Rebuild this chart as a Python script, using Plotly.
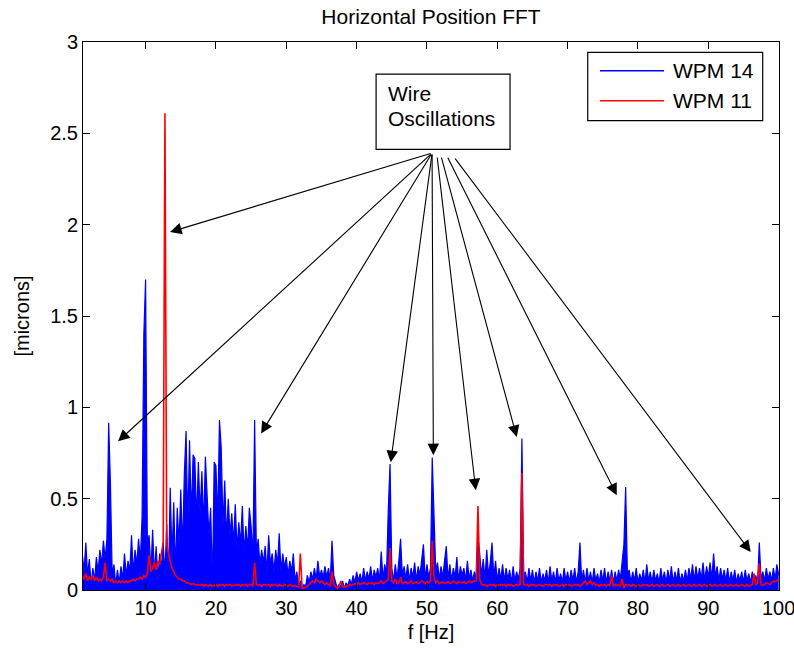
import numpy as np
import plotly.graph_objects as go

# Frequency grid (Hz), 0.25 Hz spacing from 1.0 to 100.0
freq = np.round(np.arange(1.0, 100.0001, 0.25), 2)

# WPM 14 spectrum amplitude [microns] (rows of 2 Hz)
wpm14 = [
    0.20, 0.10, 0.26, 0.08, 0.17, 0.03, 0.12, 0.05,   # 1
    0.18, 0.10, 0.22, 0.14, 0.27, 0.17, 0.28, 0.915,  # 3
    0.58, 0.08, 0.14, 0.03, 0.11, 0.04, 0.13, 0.06,   # 5
    0.20, 0.08, 0.16, 0.10, 0.30, 0.09, 0.22, 0.14,   # 7
    0.28, 0.16, 0.40, 1.40, 1.70, 0.25, 0.30, 0.10,   # 9
    0.33, 0.08, 0.24, 0.05, 0.20, 0.12, 0.26, 0.08,   # 11
    0.36, 0.04, 0.56, 0.18, 0.48, 0.10, 0.45, 0.25,   # 13
    0.55, 0.22, 0.63, 0.87, 0.35, 0.82, 0.40, 0.74,   # 15
    0.72, 0.38, 0.70, 0.42, 0.65, 0.35, 0.73, 0.55,   # 17
    0.30, 0.45, 0.02, 0.70, 0.68, 0.38, 0.93, 0.78,   # 19
    0.35, 0.60, 0.28, 0.50, 0.30, 0.42, 0.25, 0.47,   # 21
    0.22, 0.37, 0.25, 0.46, 0.20, 0.35, 0.22, 0.45,   # 23
    0.35, 0.18, 0.93, 0.20, 0.28, 0.14, 0.22, 0.15,   # 25
    0.24, 0.10, 0.30, 0.14, 0.20, 0.10, 0.22, 0.14,   # 27
    0.31, 0.10, 0.20, 0.12, 0.18, 0.08, 0.16, 0.10,   # 29
    0.20, 0.05, 0.10, 0.02, 0.05, 0.01, 0.03, 0.02,   # 31
    0.08, 0.04, 0.10, 0.06, 0.12, 0.06, 0.16, 0.07,   # 33
    0.11, 0.07, 0.13, 0.07, 0.12, 0.05, 0.27, 0.08,   # 35
    0.04, 0.01, 0.03, 0.02, 0.05, 0.01, 0.04, 0.02,   # 37
    0.06, 0.03, 0.08, 0.04, 0.10, 0.05, 0.09, 0.04,   # 39
    0.12, 0.05, 0.10, 0.06, 0.13, 0.05, 0.11, 0.07,   # 41
    0.12, 0.05, 0.21, 0.06, 0.14, 0.08, 0.44, 0.69,   # 43
    0.12, 0.05, 0.14, 0.06, 0.16, 0.28, 0.08, 0.13,   # 45
    0.06, 0.14, 0.05, 0.12, 0.07, 0.15, 0.05, 0.13,   # 47
    0.08, 0.16, 0.25, 0.06, 0.14, 0.07, 0.12, 0.725,  # 49
    0.37, 0.10, 0.15, 0.06, 0.13, 0.07, 0.16, 0.24,   # 51
    0.06, 0.14, 0.05, 0.12, 0.07, 0.18, 0.05, 0.13,   # 53
    0.08, 0.12, 0.05, 0.16, 0.06, 0.11, 0.05, 0.10,   # 55
    0.06, 0.29, 0.20, 0.08, 0.17, 0.06, 0.22, 0.08,   # 57
    0.15, 0.26, 0.07, 0.16, 0.05, 0.12, 0.06, 0.14,   # 59
    0.05, 0.12, 0.06, 0.11, 0.04, 0.13, 0.05, 0.10,   # 61
    0.06, 0.12, 0.83, 0.08, 0.10, 0.04, 0.12, 0.05,   # 63
    0.11, 0.04, 0.10, 0.05, 0.12, 0.04, 0.09, 0.05,   # 65
    0.11, 0.04, 0.13, 0.05, 0.10, 0.04, 0.12, 0.05,   # 67
    0.09, 0.04, 0.12, 0.05, 0.10, 0.04, 0.11, 0.05,   # 69
    0.12, 0.04, 0.10, 0.26, 0.05, 0.11, 0.04, 0.12,   # 71
    0.05, 0.10, 0.04, 0.12, 0.05, 0.09, 0.04, 0.11,   # 73
    0.05, 0.12, 0.04, 0.10, 0.05, 0.11, 0.04, 0.10,   # 75
    0.05, 0.11, 0.06, 0.14, 0.25, 0.564, 0.08, 0.11,  # 77
    0.04, 0.10, 0.05, 0.12, 0.04, 0.09, 0.05, 0.11,   # 79
    0.04, 0.14, 0.05, 0.10, 0.04, 0.11, 0.05, 0.09,   # 81
    0.04, 0.12, 0.05, 0.10, 0.04, 0.11, 0.05, 0.13,   # 83
    0.04, 0.10, 0.05, 0.12, 0.04, 0.09, 0.05, 0.11,   # 85
    0.05, 0.12, 0.06, 0.14, 0.05, 0.13, 0.06, 0.12,   # 87
    0.06, 0.15, 0.05, 0.13, 0.07, 0.15, 0.06, 0.20,   # 89
    0.07, 0.13, 0.05, 0.12, 0.06, 0.11, 0.05, 0.12,   # 91
    0.04, 0.10, 0.05, 0.11, 0.04, 0.09, 0.05, 0.10,   # 93
    0.04, 0.11, 0.05, 0.09, 0.04, 0.10, 0.05, 0.08,   # 95
    0.04, 0.26, 0.06, 0.10, 0.05, 0.12, 0.06, 0.10,   # 97
    0.05, 0.12, 0.06, 0.14,                           # 99
    0.08,                                             # 100
]

# WPM 11 spectrum amplitude [microns]
wpm11 = [
    0.08, 0.06, 0.09, 0.05, 0.07, 0.06, 0.08, 0.05,   # 1
    0.07, 0.05, 0.06, 0.05, 0.07, 0.15, 0.05, 0.06,   # 3
    0.05, 0.06, 0.04, 0.05, 0.04, 0.05, 0.04, 0.05,   # 5
    0.04, 0.05, 0.04, 0.05, 0.05, 0.06, 0.05, 0.06,   # 7
    0.06, 0.07, 0.06, 0.08, 0.07, 0.09, 0.19, 0.10,   # 9
    0.12, 0.15, 0.11, 0.16, 0.14, 0.20, 0.26, 2.61,   # 11
    0.25, 0.20, 0.15, 0.12, 0.10, 0.08, 0.07, 0.06,   # 13
    0.06, 0.05, 0.05, 0.04, 0.04, 0.035, 0.03, 0.035, # 15
    0.03, 0.025, 0.03, 0.025, 0.03, 0.02, 0.03, 0.025,  # 17
    0.02, 0.03, 0.02, 0.025, 0.03, 0.02, 0.03, 0.025,   # 19
    0.03, 0.02, 0.03, 0.025, 0.03, 0.02, 0.025, 0.03,   # 21
    0.025, 0.03, 0.02, 0.03, 0.025, 0.03, 0.02, 0.03,   # 23
    0.03, 0.02, 0.15, 0.03, 0.025, 0.03, 0.02, 0.03,    # 25
    0.03, 0.025, 0.03, 0.02, 0.03, 0.025, 0.03, 0.02,   # 27
    0.03, 0.025, 0.02, 0.03, 0.025, 0.02, 0.03, 0.025,  # 29
    0.02, 0.025, 0.02, 0.015, 0.20, 0.01, 0.01, 0.015,  # 31
    0.02, 0.03, 0.04, 0.05, 0.04, 0.06, 0.05, 0.04,     # 33
    0.05, 0.04, 0.03, 0.04, 0.03, 0.02, 0.10, 0.03,     # 35
    0.02, 0.01, 0.015, 0.05, 0.02, 0.015, 0.02, 0.02,   # 37
    0.03, 0.025, 0.03, 0.035, 0.03, 0.04, 0.03, 0.035,  # 39
    0.04, 0.035, 0.03, 0.04, 0.035, 0.04, 0.03, 0.04,   # 41
    0.035, 0.04, 0.05, 0.035, 0.04, 0.05, 0.06, 0.23,   # 43
    0.05, 0.04, 0.06, 0.035, 0.04, 0.07, 0.035, 0.04,   # 45
    0.045, 0.035, 0.04, 0.05, 0.035, 0.04, 0.045, 0.035,  # 47
    0.04, 0.05, 0.04, 0.035, 0.045, 0.04, 0.05, 0.27,   # 49
    0.07, 0.04, 0.05, 0.035, 0.04, 0.045, 0.035, 0.04,  # 51
    0.045, 0.035, 0.04, 0.05, 0.04, 0.035, 0.045, 0.04, # 53
    0.04, 0.045, 0.035, 0.04, 0.05, 0.04, 0.045, 0.05,  # 55
    0.05, 0.46, 0.06, 0.03, 0.025, 0.03, 0.02, 0.025,   # 57
    0.03, 0.025, 0.03, 0.02, 0.03, 0.025, 0.03, 0.025,  # 59
    0.03, 0.02, 0.03, 0.025, 0.03, 0.02, 0.025, 0.03,   # 61
    0.025, 0.03, 0.64, 0.03, 0.025, 0.03, 0.02, 0.03,   # 63
    0.025, 0.03, 0.02, 0.025, 0.03, 0.025, 0.02, 0.03,  # 65
    0.03, 0.025, 0.03, 0.02, 0.03, 0.025, 0.03, 0.02,   # 67
    0.025, 0.03, 0.02, 0.03, 0.025, 0.03, 0.02, 0.025,  # 69
    0.03, 0.025, 0.03, 0.02, 0.03, 0.04, 0.05, 0.03,    # 71
    0.04, 0.05, 0.03, 0.04, 0.025, 0.03, 0.02, 0.03,    # 73
    0.025, 0.03, 0.02, 0.03, 0.025, 0.08, 0.02, 0.03,   # 75
    0.025, 0.03, 0.02, 0.06, 0.01, 0.03, 0.025, 0.03,   # 77
    0.02, 0.03, 0.025, 0.02, 0.03, 0.025, 0.02, 0.03,   # 79
    0.025, 0.03, 0.02, 0.025, 0.03, 0.02, 0.025, 0.03,  # 81
    0.02, 0.025, 0.03, 0.02, 0.025, 0.03, 0.02, 0.025,  # 83
    0.03, 0.02, 0.025, 0.03, 0.02, 0.025, 0.03, 0.02,   # 85
    0.025, 0.03, 0.02, 0.025, 0.03, 0.02, 0.025, 0.03,  # 87
    0.02, 0.025, 0.03, 0.02, 0.025, 0.03, 0.02, 0.025,  # 89
    0.03, 0.02, 0.025, 0.03, 0.02, 0.025, 0.03, 0.02,   # 91
    0.025, 0.03, 0.02, 0.025, 0.03, 0.02, 0.025, 0.03,  # 93
    0.025, 0.02, 0.03, 0.02, 0.025, 0.03, 0.09, 0.025,  # 95
    0.04, 0.145, 0.03, 0.025, 0.03, 0.04, 0.035, 0.03,  # 97
    0.04, 0.05, 0.045, 0.055,                           # 99
    0.06,                                               # 100
]

x_ticks = [10, 20, 30, 40, 50, 60, 70, 80, 90, 100]
y_ticks = [0, 0.5, 1, 1.5, 2, 2.5, 3]
y_tick_labels = ["0", "0.5", "1", "1.5", "2", "2.5", "3"]

series_names = ["WPM 14", "WPM 11"]
series_colors = ["#0000FF", "#FF0000"]

# Arrow tips (peaks marked as wire oscillations) and tails (below the label box)
arrow_tip_f = [13.48, 6.09, 26.42, 44.85, 50.91, 56.94, 62.76, 76.98, 96.03]
arrow_tip_v = [1.96, 0.814, 0.857, 0.70, 0.738, 0.546, 0.838, 0.519, 0.208]
arrow_tail_f = [50.73, 50.73, 50.73, 50.73, 50.73, 51.44, 52.01, 52.86, 53.85]
arrow_tail_v = [2.392, 2.392, 2.392, 2.392, 2.392, 2.375, 2.375, 2.375, 2.37]

FONT = "Liberation Sans, Arial, sans-serif"

fig = go.Figure()
# WPM 14: dense spectrum drawn as a filled band (many overlapping samples in the original)
fig.add_trace(go.Scatter(x=freq, y=wpm14, mode="lines", name=series_names[0],
                         line=dict(color=series_colors[0], width=1.2),
                         fill="tozeroy", fillcolor=series_colors[0],
                         showlegend=False))
fig.add_trace(go.Scatter(x=freq, y=wpm11, mode="lines", name=series_names[1],
                         line=dict(color=series_colors[1], width=1.6),
                         showlegend=False))

annotations = []
for tf, tv, af, av in zip(arrow_tip_f, arrow_tip_v, arrow_tail_f, arrow_tail_v):
    annotations.append(dict(x=tf, y=tv, ax=af, ay=av, xref="x", yref="y",
                            axref="x", ayref="y", text="", showarrow=True,
                            arrowhead=2, arrowsize=2.1, arrowwidth=1.1,
                            arrowcolor="black"))

# Label box text
annotations.append(dict(x=44.2, y=2.72, xref="x", yref="y", text="Wire",
                        showarrow=False, xanchor="left", yanchor="middle",
                        font=dict(family=FONT, size=21, color="black")))
annotations.append(dict(x=44.2, y=2.583, xref="x", yref="y", text="Oscillations",
                        showarrow=False, xanchor="left", yanchor="middle",
                        font=dict(family=FONT, size=21, color="black")))

# Legend (drawn as a MATLAB-style box)
leg_y = [0.9476, 0.8929]
for name, col, ly in zip(series_names, series_colors, leg_y):
    annotations.append(dict(x=0.8448, y=ly, xref="paper", yref="paper", text=name,
                            showarrow=False, xanchor="left", yanchor="middle",
                            font=dict(family=FONT, size=21, color="black")))

shapes = [
    dict(type="rect", xref="x", yref="y", x0=42.77, x1=61.81, y0=2.412, y1=2.824,
         line=dict(color="black", width=1.2), fillcolor="white", layer="below"),
    dict(type="rect", xref="paper", yref="paper", x0=0.7252, x1=0.9766,
         y0=0.8564, y1=0.9812, line=dict(color="black", width=1.2),
         fillcolor="white"),
]
for col, ly in zip(series_colors, leg_y):
    shapes.append(dict(type="line", xref="paper", yref="paper", x0=0.7428, x1=0.8348,
                       y0=ly, y1=ly, line=dict(color=col, width=1.5)))

fig.update_layout(
    width=794, height=648,
    margin=dict(l=83, r=15, t=42, b=58, autoexpand=False),
    paper_bgcolor="white", plot_bgcolor="white",
    title=dict(text="Horizontal Position FFT", x=0.5, xref="paper",
               y=1 - 17 / 648, yanchor="middle",
               font=dict(family=FONT, size=21, color="black")),
    font=dict(family=FONT, size=20, color="black"),
    annotations=annotations,
    shapes=shapes,
)
fig.update_xaxes(range=[1.1, 100.05], tickvals=x_ticks, ticks="inside", ticklen=7,
                 tickcolor="black", showline=True, linecolor="black", linewidth=1,
                 mirror="ticks", showgrid=False, zeroline=False,
                 automargin=False, ticklabeloverflow="allow",
                 tickfont=dict(family=FONT, size=20, color="black"),
                 title=dict(text="f [Hz]", standoff=6,
                            font=dict(family=FONT, size=20, color="black")))
fig.update_yaxes(range=[0, 3], tickvals=y_ticks, ticktext=y_tick_labels,
                 ticks="inside", ticklen=7, tickcolor="black", showline=True,
                 linecolor="black", linewidth=1, mirror="ticks", showgrid=False,
                 zeroline=False, automargin=False,
                 tickfont=dict(family=FONT, size=20, color="black"),
                 title=dict(text="[microns]", standoff=15,
                            font=dict(family=FONT, size=20, color="black")))

fig.write_html("out.html")
